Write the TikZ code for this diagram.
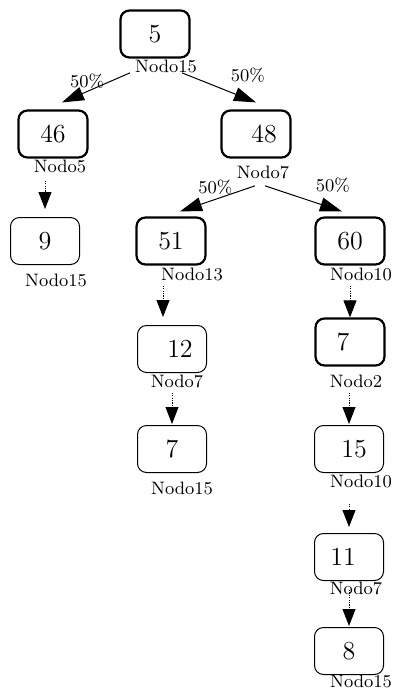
\documentclass[tikz,border=0pt]{standalone}
\usetikzlibrary{arrows.meta,positioning,calc}

\begin{document}
\begin{tikzpicture}[
  x=0.5pt, y=-0.5pt,
  >={Triangle[length=8.5pt,width=6.5pt]},
  box/.style  ={draw, rounded corners=4.5pt, minimum width=34.5pt, minimum height=23.5pt,
                inner sep=0pt, line width=0.5pt, font=\fontsize{13pt}{15pt}\selectfont},
  hub/.style  ={box, line width=1.1pt},
  tag/.style  ={inner sep=0pt, font=\fontsize{9pt}{10pt}\selectfont},
  pct/.style  ={inner sep=0pt, font=\fontsize{9pt}{10pt}\selectfont},
  flow/.style ={-{Triangle[length=11pt,width=7pt]}, line width=0.5pt},
  chain/.style={->, line width=0.45pt, dash pattern=on 0.6pt off 0.6pt},
]
\useasboundingbox (0,0) rectangle (393,692);

% ---- root ---------------------------------------------------------------
\node[hub] (n5)  at (155,34) {5};
\node[tag] (t5)  at (166,66) {Nodo15};

% ---- first split --------------------------------------------------------
\node[hub] (n46) at (53,134)  {46};
\node[tag] (t46) at (60,166)  {Nodo5};
\node[hub] (n48) at (256,134) {\hspace*{8pt}48};
\node[tag] (t48) at (263,172) {Nodo7};

% ---- second row ---------------------------------------------------------
\node[box] (n9)  at (45,241)  {9};
\node[tag] (t9)  at (56,280)  {Nodo15};
\node[hub] (n51) at (171,241) {51};
\node[tag] (t51) at (192,274) {Nodo13};
\node[hub] (n60) at (350,241) {60};
\node[tag] (t60) at (361,274) {Nodo10};

% ---- left chain ---------------------------------------------------------
\node[box] (n12) at (172,349) {\hspace*{8pt}12};
\node[tag] (t12) at (177,381) {Nodo7};
\node[box] (n7b) at (172,449) {7};
\node[tag] (t7b) at (182,488) {Nodo15};

% ---- right chain --------------------------------------------------------
\node[hub] (n7a) at (350,342) {7\hspace*{7pt}};
\node[tag] (t7a) at (356,381) {Nodo2};
\node[box] (n15) at (349,449) {\hspace*{5pt}15};
\node[tag] (t15) at (361,481) {Nodo10};
\node[box] (n11) at (349,557) {11\hspace*{6pt}};
\node[tag] (t11) at (356,588) {Nodo7};
\node[box] (n8)  at (349,651) {8};
\node[tag] (t8)  at (361,681) {Nodo15};

% ---- split edges --------------------------------------------------------
\draw[flow] ([xshift=-18pt]t5.south) -- node[pct, pos=0.63, above=1pt]{50\%}
  ([xshift=4.5pt,yshift=3.5pt]n46.north);
\draw[flow] ([xshift=8pt]t5.south) -- node[pct, pos=0.89, above=8pt]{50\%}
  ([yshift=3.5pt]n48.north);
\draw[flow] ([xshift=-4pt,yshift=-3.5pt]t48.south) -- node[pct, pos=0.53, above=2pt]{50\%}
  ([xshift=4.5pt,yshift=2.5pt]n51.north);
\draw[flow] ([xshift=1pt,yshift=-3.5pt]t48.south) -- node[pct, pos=0.88, above=7.5pt]{50\%}
  ([xshift=-4pt,yshift=2.5pt]n60.north);

% ---- dotted chains ------------------------------------------------------
\coordinate (d12) at ([xshift=-4.5pt]n12.north);
\draw[chain, shorten <=4pt,   shorten >=4pt]   (t46.south -| n9.north)  -- (n9.north);
\draw[chain, shorten <=2.5pt, shorten >=4pt]   (t51.south -| d12)       -- (d12);
\draw[chain, shorten <=2.5pt, shorten >=0.5pt] (t12.south -| n7b.north) -- (n7b.north);
\draw[chain, shorten <=2.5pt]                  (t60.south -| n7a.north) -- (n7a.north);
\draw[chain, shorten <=2.5pt, shorten >=0.5pt] (t7a.south -| n15.north) -- (n15.north);
\draw[chain, shorten <=8pt,   shorten >=3pt]   (t15.south -| n11.north) -- (n11.north);
\draw[chain, shorten <=1pt,   shorten >=0.5pt] (t11 -| n8.north)        -- (n8.north);

\end{tikzpicture}
\end{document}
